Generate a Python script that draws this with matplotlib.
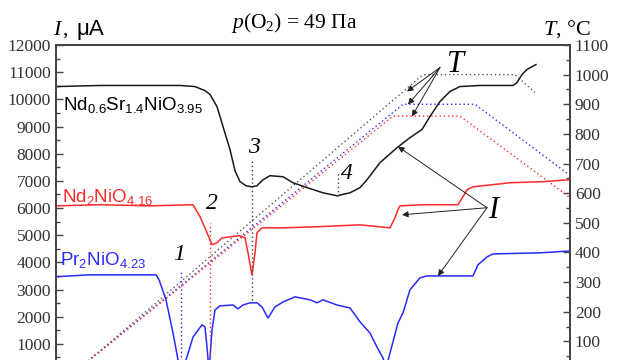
import numpy as np
import matplotlib
matplotlib.use('Agg')
import matplotlib.pyplot as plt
from matplotlib.ticker import MultipleLocator, FixedLocator

plt.rcParams['font.family'] = ['Liberation Serif', 'DejaVu Serif']
plt.rcParams['mathtext.fontset'] = 'custom'
plt.rcParams['mathtext.rm'] = 'Liberation Serif'
plt.rcParams['mathtext.it'] = 'Liberation Serif:italic'
plt.rcParams['mathtext.sf'] = 'Liberation Sans'

# time (arb. units), current (uA)
tBlack = [0, 44, 94, 124, 139, 149, 154, 161, 167, 174, 179, 184, 190, 196, 201, 207, 214, 227, 237,
          251, 267, 281, 294, 304, 311, 324, 341, 354, 366, 374, 384, 394, 404, 424, 457, 461, 466, 471, 480]
iBlack = [10470, 10510, 10510, 10510, 10470, 10320, 10180, 9730, 9000, 8150, 7370, 6970, 6820, 6780,
          6820, 7040, 7190, 7150, 6930, 6750, 6560, 6450, 6560, 6750, 7040, 7670, 8220, 8590, 8890,
          9370, 9920, 10290, 10470, 10510, 10510, 10620, 10910, 11100, 11280]

tRed = [0, 44, 94, 137, 144, 151, 156, 161, 166, 174, 184, 189, 192, 196, 199, 201, 206, 227, 261,
        304, 334, 339, 342, 344, 367, 402, 407, 411, 417, 454, 487, 514]
iRed = [6080, 6120, 6080, 6120, 5680, 5090, 4650, 4720, 4900, 4940, 4980, 4900, 4350, 3540, 4350,
        5090, 5270, 5270, 5310, 5380, 5270, 5640, 5940, 6080, 6120, 6120, 6420, 6670, 6780, 6930,
        6970, 7040]

tBlue = [0, 33, 100, 103, 110, 117, 122, 126, 131, 137, 146, 149, 151, 153, 156, 159, 164, 177, 182,
         187, 194, 201, 206, 212, 219, 227, 239, 254, 261, 267, 281, 294, 304, 314, 321, 327, 330,
         334, 342, 347, 354, 364, 371, 417, 422, 431, 437, 484, 514]
iBlue = [3470, 3540, 3540, 3360, 2620, 1400, 410, 50, 520, 1250, 1700, 1620, 880, 0, 1510, 2250,
         2400, 2430, 2290, 2430, 2510, 2510, 2360, 1950, 2360, 2540, 2730, 2620, 2510, 2620, 2430,
         2320, 1810, 1400, 880, 480, 110, 660, 1770, 2140, 2990, 3430, 3500, 3500, 3910, 4200, 4310,
         4350, 4420]

# temperature programs (deg C)
tTBlack = [29, 367, 459, 479]
TBlack = [25, 1000, 1000, 940]
tTBlue = [29, 347, 419, 514]
TBlue = [25, 900, 900, 660]
tTRed = [29, 337, 404, 514]
TRed = [25, 860, 860, 585]

# marked points: time, top current, bottom current
markT = [125, 154, 196, 282]
markTop = [3720, 5460, 7850, 7340]
markBottom = [0, 0, 2620, 6450]
markLabels = ['1', '2', '3', '4']

cBlack = '#1a1a1a'
cRed = '#ff2a2a'
cBlue = '#2a2aff'

figure = plt.figure(figsize=(6.19, 3.60), dpi=100)
ax = figure.add_axes([0.0905, -0.0306, 0.8303, 0.9056])
tAxis = ax.twinx()

tAxis.plot(tTBlack, TBlack, color='#555555', ls=(0, (1, 2)), lw=1.0)
tAxis.plot(tTBlue, TBlue, color=cBlue, ls=(0, (1, 2)), lw=1.0)
tAxis.plot(tTRed, TRed, color=cRed, ls=(0, (1, 2)), lw=1.0)

ax.set_zorder(tAxis.get_zorder() + 1)
ax.patch.set_visible(False)

ax.plot(tBlack, iBlack, color=cBlack, lw=1.1)
ax.plot(tRed, iRed, color=cRed, lw=1.1)
ax.plot(tBlue, iBlue, color=cBlue, lw=1.1)

markColors = [cBlue, cRed, '#444444', '#444444']
for t, top, bot, c in zip(markT, markTop, markBottom, markColors):
    ax.plot([t, t], [bot, top], color=c, ls=(0, (1, 2)), lw=1.0)
labelPos = [(123, 4300), (156, 6150), (198, 8230), (291, 7280)]
for (x, y), s in zip(labelPos, markLabels):
    ax.text(x, y, s, fontsize=17, fontstyle='italic', ha='center', va='center')

ax.text(7, 9620, r'$\mathsf{Nd_{0.6}Sr_{1.4}NiO_{3.95}}$', fontsize=13.5, color='k', va='baseline')
ax.text(6, 6230, r'$\mathsf{Nd_{2}NiO_{4.16}}$', fontsize=13.5, color=cRed, va='baseline')
ax.text(4, 3910, r'$\mathsf{Pr_{2}NiO_{4.23}}$', fontsize=13.5, color=cBlue, va='baseline')

arrow = dict(arrowstyle='-|>', color='#222222', lw=0.7, mutation_scale=9, shrinkA=0, shrinkB=0)
ax.text(400, 11300, 'T', fontsize=22, fontstyle='italic', ha='center', va='center')
for tip in [(351, 10290), (352, 9810), (356, 9370)]:
    ax.annotate('', xy=tip, xytext=(384, 11170), arrowprops=arrow)
ax.text(437, 5900, 'I', fontsize=22, fontstyle='italic', ha='center', va='center')
for tip in [(342, 8260), (346, 5750), (382, 3500)]:
    ax.annotate('', xy=tip, xytext=(431, 6010), arrowprops=arrow)

ax.set_xlim(0, 514)
ax.set_ylim(0, 12000)
tAxis.set_ylim(0, 1100)
ax.set_xticks([])
ax.yaxis.set_major_locator(FixedLocator(np.arange(1000, 12001, 1000)))
ax.yaxis.set_minor_locator(MultipleLocator(500))
tAxis.yaxis.set_major_locator(FixedLocator(np.arange(100, 1101, 100)))
tAxis.yaxis.set_minor_locator(MultipleLocator(50))
for a in (ax, tAxis):
    a.tick_params(which='major', direction='in', length=5, width=1.0, color='#444444',
                  labelsize=12.5, labelcolor='#333333')
    a.tick_params(which='minor', direction='in', length=3, width=1.0, color='#444444')
    for s in a.spines.values():
        s.set_color('#444444')
        s.set_linewidth(1.3)

figure.text(0.475, 0.922, r'$p(\mathrm{O_2})$ = 49 Па', fontsize=15.5, ha='center', va='baseline')
figure.text(0.0856, 0.903, 'I', fontsize=16, fontstyle='italic', va='baseline')
figure.text(0.101, 0.903, ',', fontsize=16, va='baseline')
figure.text(0.123, 0.903, 'μA', fontsize=16, va='baseline', family='Liberation Sans')
figure.text(0.877, 0.903, '$T$, °C', fontsize=16, va='baseline')

plt.savefig('out.png', dpi=100)
